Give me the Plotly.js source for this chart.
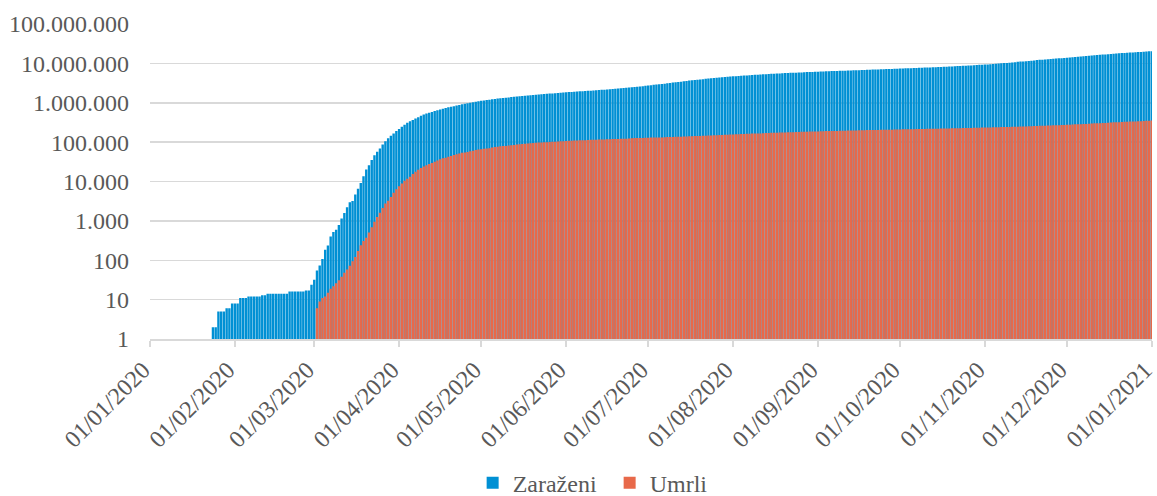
<!DOCTYPE html>
<html>
<head>
<meta charset="utf-8">
<script src="https://cdn.plot.ly/plotly-3.0.1.min.js"></script>
<style>
html,body{margin:0;padding:0;background:#ffffff;}
#chart{width:1157px;height:496px;}
</style>
</head>
<body>
<div id="chart"></div>
<script>
// ---- data (cumulative counts, daily from 22/01/2020 to 01/01/2021) ----
const seriesNames = ['Zaraženi', 'Umrli'];
const firstDay = [2020, 0, 22];

const casesJan = [1,1,2,2,5,5,5,6,6,8];
const casesFeb = [8,8,11,11,11,12,12,12,12,12,13,13,14,14,14,14,14,14,14,14,16,16,16,16,16,16,17,17,24];
const casesMar = [32,55,74,107,184,237,403,519,594,782,1147,1586,2219,2978,3212,4679,6512,9169,13663,20030,26025,34944,46450,56815,68905,86668,105584,125250,145526,165867,192301];
const casesApr = [215000,244000,277000,311000,337000,367000,398000,431000,467000,502000,532000,560000,586000,614000,644000,677000,709000,738000,764000,792000,818000,847000,880000,917000,950000,977000,1002000,1026000,1054000,1084000];
const casesMay = [1117000,1146000,1172000,1196000,1221000,1245000,1274000,1301000,1327000,1348000,1368000,1390000,1412000,1440000,1466000,1490000,1510000,1532000,1553000,1576000,1604000,1628000,1651000,1670000,1689000,1708000,1727000,1750000,1775000,1799000,1818000];
const casesJun = [1840000,1862000,1882000,1904000,1929000,1953000,1971000,1989000,2008000,2030000,2053000,2079000,2104000,2124000,2144000,2170000,2197000,2226000,2258000,2291000,2320000,2352000,2389000,2428000,2468000,2514000,2557000,2596000,2640000,2686000];
const casesJul = [2738000,2795000,2852000,2899000,2944000,2996000,3058000,3120000,3183000,3253000,3314000,3373000,3434000,3501000,3570000,3647000,3718000,3782000,3846000,3907000,3971000,4043000,4113000,4187000,4252000,4307000,4364000,4430000,4498000,4566000,4634000];
const casesAug = [4693000,4741000,4789000,4844000,4899000,4957000,5019000,5074000,5121000,5169000,5222000,5277000,5330000,5394000,5443000,5483000,5521000,5565000,5612000,5657000,5705000,5746000,5780000,5817000,5859000,5905000,5950000,5999000,6042000,6077000,6114000];
const casesSep = [6155000,6196000,6241000,6291000,6333000,6364000,6390000,6418000,6453000,6490000,6537000,6577000,6611000,6646000,6685000,6725000,6769000,6818000,6860000,6897000,6949000,6987000,7027000,7072000,7121000,7165000,7200000,7237000,7280000,7321000];
const casesOct = [7366000,7420000,7469000,7505000,7548000,7592000,7642000,7700000,7758000,7812000,7859000,7900000,7953000,8013000,8077000,8147000,8205000,8253000,8317000,8379000,8442000,8518000,8601000,8684000,8748000,8815000,8891000,8973000,9065000,9164000,9250000];
const casesNov = [9335000,9428000,9553000,9660000,9788000,9919000,10047000,10155000,10285000,10425000,10570000,10735000,10922000,11087000,11220000,11389000,11553000,11724000,11917000,12116000,12294000,12437000,12615000,12790000,12975000,13080000,13285000,13432000,13573000,13735000];
const casesDec = [13936000,14143000,14360000,14593000,14808000,14985000,15183000,15400000,15620000,15848000,16090000,16304000,16495000,16694000,16900000,17152000,17391000,17637000,17836000,18028000,18225000,18426000,18655000,18870000,18985000,19212000,19371000,19560000,19760000,20000000,20230000];
const casesJan21 = [20400000];

const deathsJan = [0,0,0,0,0,0,0,0,0,0];
const deathsFeb = [0,0,0,0,0,0,0,0,0,0,0,0,0,0,0,0,0,0,0,0,0,0,0,0,0,0,0,0,1];
const deathsMar = [1,6,9,11,12,15,19,22,26,31,38,48,58,73,95,121,171,239,309,374,509,689,957,1260,1614,2110,2754,3251,4066,5151,6394];
const deathsApr = [7576,8839,10384,11793,13298,15526,17691,19802,21965,23913,25944,27626,29413,31742,34357,36681,38664,40389,42248,44555,47149,49468,51668,53574,54895,56178,58325,60720,62887,64683];
const deathsMay = [66383,67617,68812,70184,72519,74670,76557,78212,79584,80295,81619,83277,85065,86807,88387,89604,90448,91960,93509,95094,96327,97500,98172,98807,99351,100106,101638,102844,104044,105029,105694];
const deathsJun = [106500,107600,108600,109600,110500,111200,111600,112300,113300,114200,115000,115700,116400,116800,117300,118100,118900,119600,120300,120900,121200,121600,122400,123200,125700,126400,127000,127300,127700,128900];
const deathsJul = [129600,130300,130900,131200,131500,131900,133100,134000,134900,135800,136600,137000,137500,138400,139300,140300,141200,142100,142600,143100,144200,145600,146700,147900,148900,149400,150600,151800,153300,154700,156000];
const deathsAug = [157100,157600,158300,159700,161000,162200,163500,164500,165000,165600,166800,168400,169500,170800,171800,172400,173000,174400,175700,176800,177900,178900,179300,179800,181000,182200,183200,184200,185200,185600,186100];
const deathsSep = [187200,188300,189300,190300,191000,191400,191700,192100,193200,194200,195300,196000,196400,196800,198000,199200,200100,201000,201800,202100,202500,203400,204500,205400,206300,207100,207400,207700,208700,209500];
const deathsOct = [210400,211200,211900,212300,212700,213400,214300,215200,216100,216800,217300,217600,218300,219300,220200,221100,221900,222300,222800,223700,224800,225700,226700,227600,228000,228600,229600,230700,231700,232800,233700];
const deathsNov = [234200,234800,236000,237100,238300,239500,240500,241100,241800,243400,244800,246000,247300,248600,249300,250100,251700,253700,255700,257700,259200,260100,261000,263200,265500,266900,268300,269500,270400,271600];
const deathsDec = [274400,277300,280200,282700,285100,286300,287800,290500,293800,296800,299500,301900,303300,304800,307900,311500,314700,317500,320100,321600,323600,327100,330600,333300,334700,336200,337600,339500,343300,347000,350700];
const deathsJan21 = [353600];

const yTickVals = [1,10,100,1000,10000,100000,1000000,10000000,100000000];
const yTickText = ['1','10','100','1.000','10.000','100.000','1.000.000','10.000.000','100.000.000'];

// ---- assemble ----
const cases = [].concat(casesJan,casesFeb,casesMar,casesApr,casesMay,casesJun,casesJul,casesAug,casesSep,casesOct,casesNov,casesDec,casesJan21);
const deaths = [].concat(deathsJan,deathsFeb,deathsMar,deathsApr,deathsMay,deathsJun,deathsJul,deathsAug,deathsSep,deathsOct,deathsNov,deathsDec,deathsJan21);
const dates = cases.map((_, i) => new Date(Date.UTC(firstDay[0], firstDay[1], firstDay[2] + i)).toISOString().slice(0, 10));
const deathsPlot = deaths.map(v => v > 0 ? v : null);

const FONT = '"Liberation Serif", "Times New Roman", Times, serif';
const TXT = '#595959';
const GRID = '#d9d9d9';

const traces = [
  {type:'bar', name:seriesNames[0], x:dates, y:cases, marker:{color:'#0090d4', line:{width:0}}, hoverinfo:'skip'},
  {type:'bar', name:seriesNames[1], x:dates, y:deathsPlot, marker:{color:'#e8694a', line:{width:0}}, hoverinfo:'skip'}
];

const layout = {
  width:1157, height:496,
  margin:{l:150, r:5, t:24, b:157, pad:0, autoexpand:false},
  paper_bgcolor:'#ffffff', plot_bgcolor:'#ffffff',
  font:{family:FONT, color:TXT},
  barmode:'overlay', bargap:0.12,
  showlegend:true,
  legend:{orientation:'h', x:0.322, xanchor:'left', xref:'paper', yref:'container', y:0.026, yanchor:'middle',
          font:{family:FONT, size:24, color:TXT}, entrywidth:92, entrywidthmode:'pixels',
          bgcolor:'rgba(0,0,0,0)', borderwidth:0, traceorder:'normal'},
  xaxis:{type:'date', range:['2020-01-01','2021-01-01 01:00'], tick0:'2020-01-01', dtick:'M1',
         tickformat:'%d/%m/%Y', tickangle:-45, ticks:'outside', ticklen:6, tickwidth:1.5, tickcolor:GRID,
         showline:true, linecolor:GRID, linewidth:1.5, showgrid:false, zeroline:false, automargin:false,
         ticklabeloverflow:'allow', ticklabelshift:-7,
         tickfont:{family:FONT, size:24, color:TXT}, fixedrange:true},
  yaxis:{type:'log', range:[0,8], tickmode:'array', tickvals:yTickVals, ticktext:yTickText, automargin:false,
         showgrid:true, gridcolor:GRID, gridwidth:1.5, showline:false, zeroline:false, ticks:'',
         ticklabelstandoff:20, tickfont:{family:FONT, size:24, color:TXT}, fixedrange:true}
};

Plotly.newPlot('chart', traces, layout, {displayModeBar:false, staticPlot:true});
</script>
</body>
</html>
